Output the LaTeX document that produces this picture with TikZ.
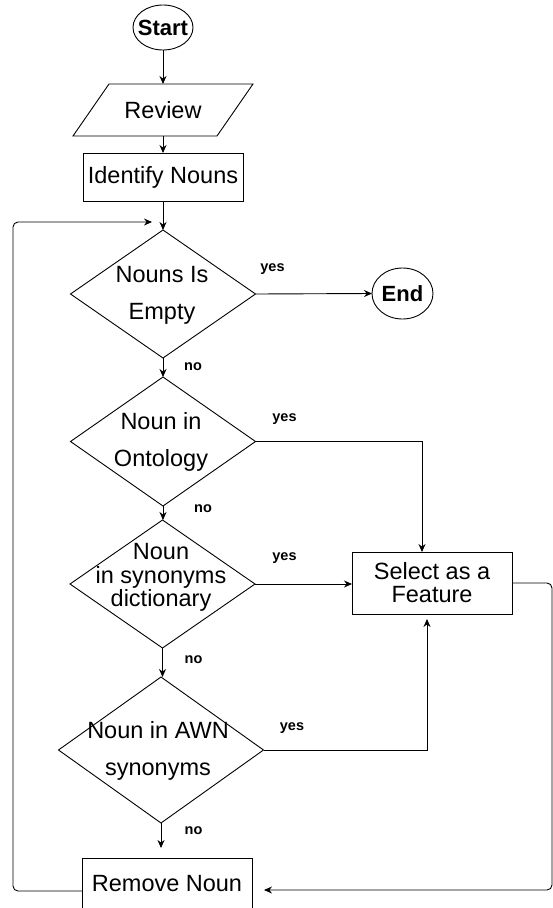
\documentclass[tikz,border=0pt]{standalone}
\usepackage{fontspec}
\setmainfont{Liberation Sans}
\usetikzlibrary{shapes.geometric,arrows.meta}
\begin{document}
\begin{tikzpicture}[x=1pt,y=-1pt,line width=0.9pt,
  every node/.style={inner sep=0pt,outer sep=0pt},
  main/.style={font=\fontsize{23.5}{28}\selectfont,align=center},
  twoline/.style={font=\fontsize{23.5}{37}\selectfont,align=center},
  tightline/.style={font=\fontsize{23.5}{23.5}\selectfont,align=center},
  boldt/.style={font=\fontsize{22}{26}\selectfont\bfseries},
  lbl/.style={font=\fontsize{14.5}{17}\selectfont\bfseries},
  boxnode/.style={draw,rectangle},
  dia/.style={draw,diamond},
  oval/.style={draw,ellipse},
  arr/.style={-{Stealth[length=8pt,width=7pt]}}]
\clip (0,0) rectangle (553,908);
% nodes
\node[oval,minimum width=60pt,minimum height=45pt] (start) at (163,27.5) {};
\node[boldt] (startt) at (start.center) {Start};
\node[main,minimum width=144pt,minimum height=52pt] (review) at (163,110) {Review};
\draw ([xshift=-18pt]review.south west) -- ([xshift=-18pt]review.south east)
  -- ([xshift=18pt]review.north east) -- ([xshift=18pt]review.north west) -- cycle;
\node[boxnode,main,minimum width=160pt,minimum height=48pt] (ident) at (163,177) {Identify Nouns};
\node[dia,minimum width=185pt,minimum height=128pt] (d1) at (163,294) {};
\node[twoline] (d1t) at (162,295.5) {Nouns Is\\Empty};
\node[oval,minimum width=61pt,minimum height=51pt] (end) at (402.5,293.5) {};
\node[boldt] (endt) at (end.center) {End};
\node[dia,minimum width=185pt,minimum height=129pt] (d2) at (163,441.5) {};
\node[twoline] (d2t) at (161,441.5) {Noun in\\Ontology};
\node[dia,minimum width=185pt,minimum height=128pt] (d3) at (162.5,584) {};
\node[tightline] (d3t) at (161,577.5) {Noun\\in synonyms\\dictionary};
\node[dia,minimum width=205pt,minimum height=146pt] (d4) at (161,750) {};
\node[twoline] (d4t) at (158,750.5) {Noun in AWN\\synonyms};
\node[boxnode,font=\fontsize{23.5}{23}\selectfont,align=center,minimum width=160pt,minimum height=62pt] (select) at (432,583) {Select as a\\Feature};
\node[boxnode,main,minimum width=170pt,minimum height=52pt] (remove) at (167,884) {Remove Noun};
% labels
\node[lbl] (y1) at (272.5,269) {yes};
\node[lbl] (y2) at (284.5,419) {yes};
\node[lbl] (y3) at (284.5,558) {yes};
\node[lbl] (y4) at (292,728) {yes};
\node[lbl] (n1) at (193,367) {no};
\node[lbl] (n2) at (203,509) {no};
\node[lbl] (n3) at (193.5,660) {no};
\node[lbl] (n4) at (193.5,831) {no};
% coordinates for loops
\coordinate (rloop) at (552,890);
\coordinate (lloop) at (13,222);
\coordinate (loopend) at (152,222);
% connectors
\draw[arr] (start.south) -- (review.north);
\draw[arr] (review.south) -- (ident.north);
\draw[arr] (ident.south) -- (ident.south |- d1.north);
\draw[arr] (d1.east) -- (end.west);
\draw[arr] (d1.south) -- (d1.south |- d2.north);
\draw[arr] (d2.east) -| ([xshift=-10pt]select.north);
\draw[arr] (d2.south) -- (d2.south |- d3.north);
\draw[arr] (d3.east) -- (d3.east -| select.west);
\draw[arr] (d3.south) -- (d3.south |- d4.north);
\draw[arr] (d4.east) -| ([xshift=-5pt,yshift=-5pt]select.south);
\draw[arr,shorten >=10pt] (d4.south) -- (d4.south |- remove.north);
\draw[arr,rounded corners=5pt,shorten >=12pt] (select.east) -| (rloop) -- ([yshift=-6pt]remove.east);
\draw[arr,rounded corners=5pt] ([yshift=-7pt]remove.west) -| (lloop) -- (loopend);
\end{tikzpicture}
\end{document}
